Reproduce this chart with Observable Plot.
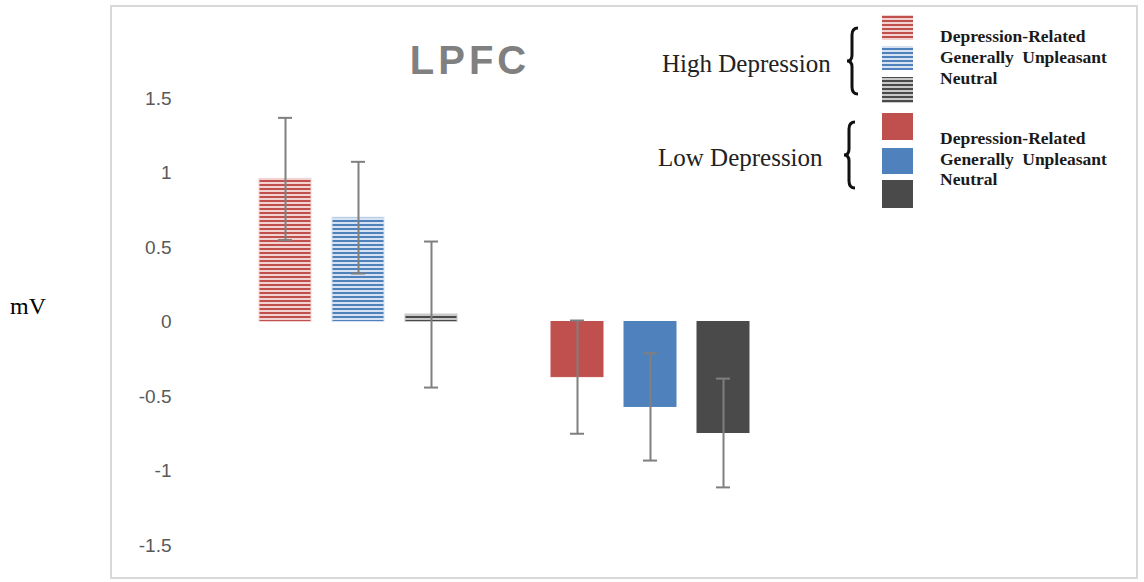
<!DOCTYPE html>
<html>
<head>
<meta charset="utf-8">
<script src="https://cdn.jsdelivr.net/npm/d3@7"></script>
<script src="https://cdn.jsdelivr.net/npm/@observablehq/plot@0.6"></script>
<style>
  html, body { margin: 0; padding: 0; background: #fff; }
  #wrap { position: relative; width: 1144px; height: 582px; overflow: hidden; }
  #frame { position: absolute; left: 110px; top: 5px; width: 1028px; height: 574px;
           border: 2px solid #d9d9d9; box-sizing: border-box; }
  #chart, #overlay { position: absolute; left: 0; top: 0; }
</style>
</head>
<body>
<div id="wrap">
  <div id="frame"></div>
  <div id="chart"></div>
  <svg id="overlay" width="1144" height="582"></svg>
</div>
<script>
// ---- data ----
const title = "LPFC";
const yLabel = "mV";
const groups = ["High Depression", "Low Depression"];
const conditions = ["Depression-Related", "Generally Unpleasant", "Neutral"];
const highMeans = [0.96, 0.70, 0.05];
const highErrors = [0.41, 0.375, 0.49];
const lowMeans = [-0.37, -0.57, -0.745];
const lowErrors = [0.38, 0.36, 0.365];
const yTicks = [-1.5, -1, -0.5, 0, 0.5, 1, 1.5];

// ---- styles ----
const solid = {"Depression-Related": "#c0504d", "Generally Unpleasant": "#4f81bd", "Neutral": "#4a4a4a"};
const light = {"Depression-Related": "#f3d3d2", "Generally Unpleasant": "#d6e2f1", "Neutral": "#c8c8c8"};
const hatchId = c => "hatch-" + conditions.indexOf(c);

const means = [highMeans, lowMeans];
const errors = [highErrors, lowErrors];
const rows = groups.flatMap((g, gi) => conditions.map((c, ci) => ({
  group: g, condition: c, key: g + "|" + c,
  mean: means[gi][ci], err: errors[gi][ci],
  hatched: gi === 0
})));
const xDomain = [...rows.filter(d => d.group === groups[0]).map(d => d.key), "gap",
                 ...rows.filter(d => d.group === groups[1]).map(d => d.key)];

const fillOf = d => d.hatched ? `url(#${hatchId(d.condition)})` : solid[d.condition];
const strokeOf = d => d.hatched ? light[d.condition] : solid[d.condition];

const chart = Plot.plot({
  width: 1144,
  height: 582,
  marginTop: 98,
  marginBottom: 37,
  marginLeft: 180,
  marginRight: 0,
  style: {fontFamily: "'Liberation Sans', Arial, sans-serif", fontSize: "19px", color: "#595959", background: "transparent"},
  x: {type: "band", domain: xDomain, range: [247, 761], paddingInner: 0.29, paddingOuter: 0.145, axis: null},
  y: {domain: [-1.5, 1.5], ticks: yTicks, tickSize: 0, tickPadding: 9, tickFormat: d => String(d), label: null, line: false},
  color: {type: "identity"},
  marks: [
    Plot.barY(rows, {x: "key", y: "mean", fill: fillOf, stroke: strokeOf, strokeWidth: 1}),
    Plot.ruleX(rows, {x: "key", y1: d => d.mean - d.err, y2: d => d.mean + d.err, stroke: "#7f7f7f", strokeWidth: 2}),
    Plot.tickY(rows, {x: "key", y: d => d.mean + d.err, insetLeft: 19, insetRight: 19, stroke: "#7f7f7f", strokeWidth: 2}),
    Plot.tickY(rows, {x: "key", y: d => d.mean - d.err, insetLeft: 19, insetRight: 19, stroke: "#7f7f7f", strokeWidth: 2})
  ]
});

// hatch patterns
const svgSel = d3.select(chart);
const defs = svgSel.insert("defs", ":first-child");
conditions.forEach(c => {
  const p = defs.append("pattern").attr("id", hatchId(c))
    .attr("patternUnits", "userSpaceOnUse").attr("width", 8).attr("height", 4);
  p.append("rect").attr("width", 8).attr("height", 4).attr("fill", light[c]);
  p.append("rect").attr("width", 8).attr("height", 2).attr("fill", solid[c]);
});
document.getElementById("chart").append(chart);

// ---- overlay: title, y label, legend ----
const ov = d3.select("#overlay");
const ovDefs = ov.append("defs");
conditions.forEach(c => {
  const p = ovDefs.append("pattern").attr("id", "lg-" + hatchId(c))
    .attr("patternUnits", "userSpaceOnUse").attr("width", 8).attr("height", 4);
  p.append("rect").attr("width", 8).attr("height", 4).attr("fill", light[c]);
  p.append("rect").attr("width", 8).attr("height", 2).attr("fill", solid[c]);
});

ov.append("text").text(title)
  .attr("x", 470).attr("y", 74).attr("text-anchor", "middle")
  .attr("font-family", "'Liberation Sans', Arial, sans-serif").attr("font-weight", "bold")
  .attr("font-size", 40).attr("letter-spacing", 4).attr("fill", "#808080");

ov.append("text").text(yLabel)
  .attr("x", 10).attr("y", 314)
  .attr("font-family", "'Liberation Serif', 'Times New Roman', serif").attr("font-size", 24).attr("fill", "#000");

const legendLayout = [
  {label: groups[0], lx: 662, ly: 72, braceX: 858, braceY0: 28, braceY1: 94,
   swY: [15, 46, 77], swH: [25, 24, 26], textY: [42, 63, 84], hatched: true},
  {label: groups[1], lx: 658, ly: 166, braceX: 855, braceY0: 122, braceY1: 188,
   swY: [113, 148, 180], swH: [27, 26, 28], textY: [144, 165, 185], hatched: false}
];
legendLayout.forEach(L => {
  ov.append("text").text(L.label).attr("x", L.lx).attr("y", L.ly)
    .attr("font-family", "'Liberation Serif', 'Times New Roman', serif").attr("font-size", 25).attr("fill", "#222");
  const xr = L.braceX, xm = xr - 6, xl = xr - 11, y0 = L.braceY0, y1 = L.braceY1, ym = (y0 + y1) / 2;
  ov.append("path")
    .attr("d", `M${xr},${y0} Q${xm},${y0} ${xm},${y0 + 7} L${xm},${ym - 6} Q${xm},${ym} ${xl},${ym} Q${xm},${ym} ${xm},${ym + 6} L${xm},${y1 - 7} Q${xm},${y1} ${xr},${y1}`)
    .attr("fill", "none").attr("stroke", "#111").attr("stroke-width", 3);
  conditions.forEach((c, i) => {
    ov.append("rect").attr("x", 882).attr("y", L.swY[i]).attr("width", 31).attr("height", L.swH[i])
      .attr("fill", L.hatched ? `url(#lg-${hatchId(c)})` : solid[c]);
    ov.append("text").text(c).attr("x", 940).attr("y", L.textY[i])
      .attr("font-family", "'Liberation Serif', 'Times New Roman', serif").attr("font-weight", "bold")
      .attr("font-size", 17.5).attr("word-spacing", 4).attr("fill", "#1a1a1a");
  });
});
</script>
</body>
</html>
